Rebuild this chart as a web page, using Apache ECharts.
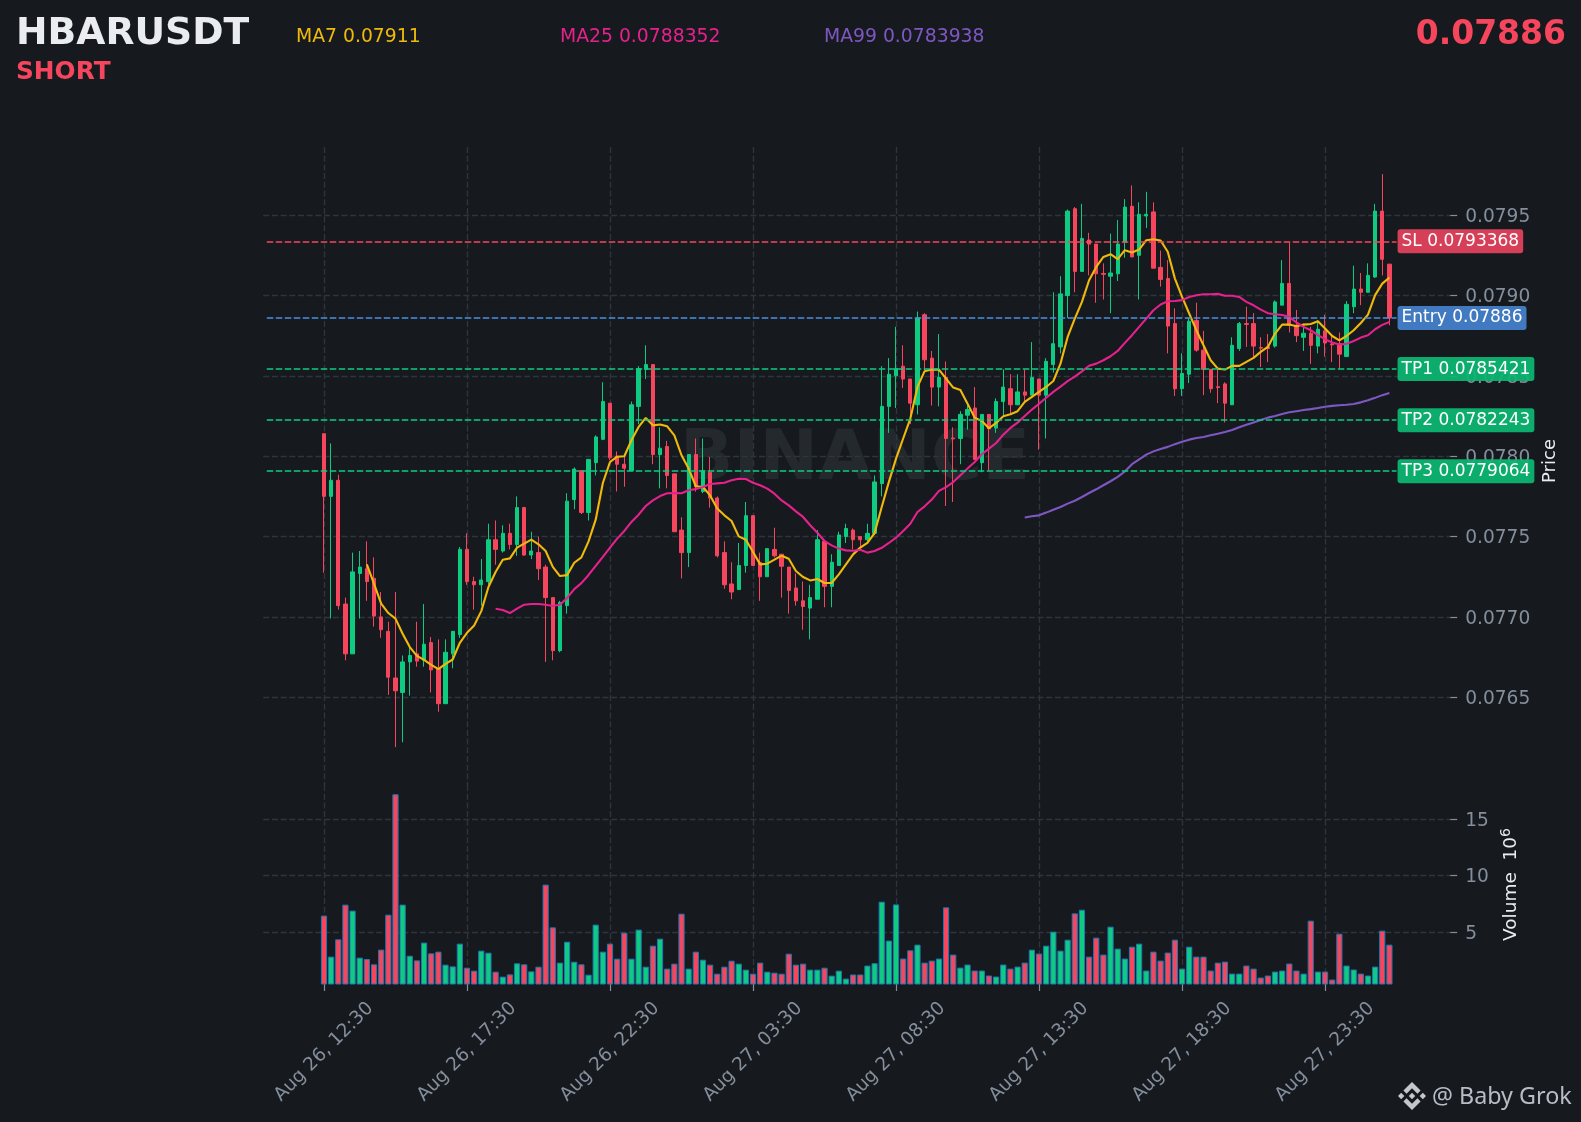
<!DOCTYPE html>
<html>
<head>
<meta charset="utf-8">
<script src="https://cdn.jsdelivr.net/npm/echarts@6/dist/echarts.min.js"></script>
<style>html,body{margin:0;padding:0;background:#161A1E}#c{width:1581px;height:1122px}</style>
</head>
<body>
<div id="c"></div>
<script>
// Prices are written in units of 0.00001 USDT
const PRICE_UNIT = 1e-5;
const opens = [7814,7775,7785,7708,7677,7727,7730,7724,7700,7691,7662,7653,7672,7677,7673,7684,7668,7646,7677,7689,7742,7722,7720,7722,7748,7741,7752,7745,7768,7738.5,7740,7731,7712,7679,7707,7773,7791,7765,7796,7810.5,7833,7800,7795,7791,7831,7854,7857,7801,7806,7789,7754,7740,7801,7778,7790,7774,7740,7720.5,7717,7732,7763,7734,7725,7742,7739,7731,7718,7710,7705.5,7711,7747,7719,7732,7750,7754,7750,7748,7752,7783,7831,7850,7856,7848,7832,7888,7861,7843,7849,7811.3,7811,7825.5,7830,7796,7826,7817.5,7834,7842,7832,7840,7838,7848,7838,7857,7868,7900,7954,7915,7934.5,7932,7913.7,7912,7913.5,7933,7955.5,7925,7949.5,7952,7917.5,7910.5,7882.5,7842,7851,7884.5,7866,7854,7843.2,7845,7832,7867,7882.5,7882.5,7867.6,7868,7868.5,7894,7907.5,7881.5,7874,7876.5,7868.5,7878,7869.8,7870,7862,7893,7904,7902,7911.5,7952.5,7919.5];
const closes = [7775,7785,7707,7677,7728,7731,7722,7700.5,7692,7662.5,7654,7672,7676,7672.5,7683,7667,7646,7678,7691,7742,7722,7720,7723,7748,7742,7752,7745,7768,7738.5,7741,7730,7712,7679,7709,7772,7792,7765,7798,7812,7834,7799,7795,7792.5,7832,7854.5,7857,7801,7805,7788,7753,7740,7801,7781,7791,7774,7738,7720,7715.5,7732,7763,7732,7725,7742.5,7738,7731.5,7716.5,7710,7706.5,7712,7748,7719,7734,7751,7755,7748,7748,7752,7784,7831,7851,7854.5,7848,7833,7886,7860,7843,7849,7811,7810.8,7826,7829,7798,7826,7817,7834,7843,7832,7840,7838,7849,7838,7859,7870,7901,7952.5,7915,7935.5,7932,7913.5,7913.2,7914,7932,7955,7924,7950.5,7950.5,7917,7910,7881,7842,7851.5,7884,7866,7854,7842,7842.7,7833,7869,7882.5,7882,7868.5,7867.2,7867,7896,7907.5,7881.5,7875,7876.5,7869,7879,7870.5,7869.3,7863.5,7894.5,7904,7902,7912.5,7952.5,7922.5,7886];
const lows = [7727.5,7699,7704.5,7673,7677,7699,7710,7694,7687,7651.5,7619,7622,7651,7669,7669,7653,7641,7646,7668,7687,7720,7704.5,7707,7720,7732.5,7740,7742,7738,7738,7736,7723,7672,7673,7678,7702,7767,7764,7760,7788,7810,7797.5,7778,7781,7791,7820,7848,7795,7780,7780,7753,7724,7731,7778,7777,7768,7737,7717.5,7711,7717,7727.5,7732,7710,7725,7737,7712,7702,7707,7692,7686,7711,7706,7706,7732,7746,7742,7743,7747,7751,7775,7814.5,7830,7842.5,7820,7826,7853.5,7831.5,7831,7769,7771.5,7795,7816.5,7798,7790,7791,7814.5,7825,7826,7832,7833,7838,7804,7811,7852,7864,7886,7902,7915,7912.5,7895.5,7897.5,7889,7909,7923.5,7924,7897.5,7942,7917,7905.5,7864,7837.5,7837.5,7845.5,7865,7838,7839.5,7833,7821,7832,7865.5,7868,7861.5,7855.5,7858.5,7867.5,7894,7877,7871,7865.5,7857.5,7864,7862,7858.5,7854.5,7862,7889,7894,7902,7911,7912.5,7881.5];
const highs = [7814,7808,7788.5,7712,7740,7741,7747,7737,7715.5,7697,7715.5,7676,7681,7697,7708,7687.5,7686,7686,7691,7743.5,7752,7725,7736,7758,7760,7757,7758,7775,7768.5,7753,7750,7732.5,7712,7710,7777,7793,7791,7798,7813,7846,7833,7803,7800,7834,7856,7869,7857,7818,7809.5,7789,7762,7801,7811,7811,7799.5,7775,7747,7734,7746,7771.5,7763,7740,7742.5,7755.5,7739,7731,7727,7722,7720,7754,7747,7739,7753,7758,7755,7750,7758,7788,7856,7861,7880.5,7869,7848,7890,7889,7865.5,7876,7859,7818,7828,7832,7843,7826,7826,7836,7854,7851,7851,7854,7871,7848,7861,7902,7912,7953.5,7955,7957,7939,7932,7920,7938.5,7947,7960,7968.5,7958,7964.5,7958,7928,7922,7892,7864,7886,7895.5,7878,7854,7854,7846,7874,7883.5,7893,7889,7874,7876,7897,7922,7933,7891,7882.5,7880.5,7884.5,7888,7876,7877,7896.5,7918.5,7914,7920,7957,7975.5,7919.5];
// Volume in millions
const volumes = [6.45,2.82,4.35,7.42,6.89,2.73,2.61,2.14,3.44,6.53,17.18,7.42,2.9,2.49,4.06,3.11,3.26,2.11,1.96,3.97,1.84,1.58,3.35,3.17,1.49,1.05,1.25,2.23,2.14,1.52,1.93,9.19,5.41,2.29,4.14,2.37,2.14,1.22,5.65,3.26,3.97,2.64,4.94,2.64,5.21,1.93,3.79,4.41,1.76,2.2,6.62,1.76,3.26,2.55,2.11,1.31,1.93,2.46,2.2,1.67,1.31,2.29,1.49,1.4,1.31,3.08,2.11,2.2,1.67,1.67,1.84,1.14,1.58,0.88,1.24,1.24,2.03,2.24,7.68,4.24,7.44,2.65,3.38,3.88,2.29,2.47,2.65,7.18,3.0,1.85,2.12,1.59,1.59,1.15,1.06,2.12,1.76,1.94,2.29,3.44,3.09,3.79,5.03,3.35,4.32,6.65,6.97,2.82,4.5,3.0,5.47,3.53,2.65,3.7,3.97,1.59,3.26,2.47,3.18,4.32,1.76,3.7,2.82,2.82,1.59,2.29,2.38,1.32,1.32,2.03,1.76,0.97,1.15,1.5,1.59,2.21,1.59,1.32,6.0,1.5,1.5,0.79,4.85,2.03,1.68,1.32,1.15,1.94,5.12,3.88];
// MA7 starts at candle 6, MA25 at candle 24, MA99 at candle 98
const ma7 = [7732.7,7720.6,7708.2,7702.4,7698.9,7689.5,7681.2,7675.8,7673.3,7670.2,7667.5,7670.8,7673.5,7683.9,7690.1,7694.7,7703.6,7718.6,7727.9,7735.6,7736.4,7743.1,7745.6,7748.1,7745.2,7741,7731.1,7725.4,7726,7733.7,7737,7747,7760.5,7783.3,7796.4,7799.7,7800,7809.9,7818.2,7823.8,7819.2,7819.7,7818.6,7813,7800.6,7792.3,7781.3,7780.8,7775.6,7767.4,7763.2,7759.7,7750.1,7748,7740.4,7732.7,7733.1,7735.6,7738.1,7736.2,7728.6,7724.8,7722.7,7723.6,7721.1,7721.1,7726.5,7732.7,7738.9,7743.1,7746,7752.2,7768.4,7784,7798.5,7811,7823.4,7843.1,7852.9,7853.9,7853.9,7848.3,7842.7,7841.2,7832.7,7824,7821.9,7817.4,7820.7,7824.8,7826.1,7828,7833.8,7836.9,7840,7843.1,7846.8,7857.6,7874.2,7885.6,7896,7909.5,7917.8,7924,7925.7,7922.6,7928.2,7926.7,7928.6,7934.4,7935,7934.2,7927.2,7910.5,7899.1,7888.8,7878.4,7869,7859.7,7854.5,7853.9,7856.2,7856.2,7858.7,7861.2,7864.9,7868,7876.3,7881.9,7881.9,7880.9,7881.9,7882.3,7884,7879.4,7874.8,7872.1,7874.8,7878.4,7882.9,7888.1,7900.2,7907.4,7911.1];
const ma25 = [7705.1,7704.3,7702.4,7705.1,7707.6,7708,7708,7707.6,7706.8,7707.6,7711.8,7717.3,7721,7726.1,7731.8,7737.3,7743.1,7748.7,7753.5,7759.1,7763.6,7769,7772.5,7775.2,7776.9,7777.1,7776.9,7778.8,7779.6,7780.8,7782.7,7783.1,7783.5,7785,7786,7785.8,7783.5,7781.9,7779.8,7776.7,7772.5,7769.4,7765.7,7762.2,7757,7752.4,7747.2,7744.5,7742.5,7741.4,7741.2,7741.8,7740,7741,7743,7746,7749.3,7753.4,7758,7765.3,7768.8,7773,7778.4,7780.8,7783.9,7788.1,7792.3,7796.4,7801.2,7804.7,7808.2,7813.4,7817.6,7820.9,7825,7829,7832.6,7836.4,7840,7843.3,7846.7,7849.5,7852.8,7856.3,7857.6,7859.7,7862.2,7865.5,7870.5,7875.3,7880.5,7885.6,7890.8,7894.4,7896.4,7896.6,7897.1,7899.1,7900.2,7900.8,7900.8,7901,7899.8,7899.8,7899.1,7896,7893.9,7891.2,7889,7888.3,7887.9,7886.7,7883.2,7880.5,7878.4,7875.3,7872.8,7870.7,7869.5,7869.9,7871.7,7873.8,7875.3,7879,7881.7,7883.5];
const ma99 = [7761.9,7762.6,7763.2,7764.9,7766.7,7768.4,7770.5,7772.3,7774.6,7777.1,7779.4,7781.9,7784.4,7787.1,7790.5,7795,7798,7801,7803,7804.5,7805.8,7807.5,7809,7810.3,7811.3,7812,7813,7814,7815,7816.3,7818,7819.5,7821,7822.5,7824,7825,7826.3,7827.3,7828,7828.7,7829.3,7830,7830.8,7831.3,7831.7,7832,7832.5,7833.5,7834.8,7836.3,7838,7839.4];
const dateLabels = ['Aug 26, 12:30','Aug 26, 17:30','Aug 26, 22:30','Aug 27, 03:30','Aug 27, 08:30','Aug 27, 13:30','Aug 27, 18:30','Aug 27, 23:30'];
const priceTicks = [0.0765,0.0770,0.0775,0.0780,0.0785,0.0790,0.0795];
const volumeTicks = [5,10,15];
const levels = [
  {name:'SL', value:0.0793368, text:'0.0793368'},
  {name:'Entry', value:0.07886, text:'0.07886'},
  {name:'TP1', value:0.0785421, text:'0.0785421'},
  {name:'TP2', value:0.0782243, text:'0.0782243'},
  {name:'TP3', value:0.0779064, text:'0.0779064'}
];
const headerMA = [
  {text:'MA7 0.07911', color:'#F0B90B', x:296},
  {text:'MA25 0.0788352', color:'#E6218E', x:560},
  {text:'MA99 0.0783938', color:'#7E57C2', x:824}
];

const RED='#F6465D', GREEN='#0ECB81', BG='#161A1E', GRID='#2E353D', MUTED='#848E9C', TEXT='#EAECEF';
const levelStyle = {SL:['#F6465D','rgba(228,67,91,0.93)'], Entry:['#4A90E2','rgba(70,130,206,0.93)'], TP1:['#0ECB81','rgba(11,184,114,0.93)'], TP2:['#0ECB81','rgba(11,184,114,0.93)'], TP3:['#0ECB81','rgba(11,184,114,0.93)']};
const PAD=8, SLOTS=166;
const isTickSlot = i => i>=PAD && (i-PAD)%20===0;
const categories = Array.from({length:SLOTS},(_,i)=> isTickSlot(i) ? (dateLabels[(i-PAD)/20]||'') : '');
const px = v => +(v*PRICE_UNIT).toFixed(7);
const lineData = (arr,start) => arr.map((v,k)=>[k+start+PAD, px(v)]);

const DASH=[6,2.7];
const gridSplit = {show:true, interval:(i)=>isTickSlot(i), alignWithLabel:true, lineStyle:{color:GRID,type:DASH,width:1.4}};
const X_LEFT=263.2, X_WIDTH=1187;
const tickRich = {t:{color:MUTED,fontSize:18.6,padding:[4,0,0,0],fontFamily:'"DejaVu Sans"'}};

// Binance mark, outline only (decoration)
const LOGO_X=1398, LOGO_Y=1082, LOGO_S=28/126.6;
const logoShapes = [
  [[38.73,53.2],[63.32,28.62],[87.92,53.22],[102.22,38.91],[63.32,0],[24.43,38.9]],
  [[0,63.31],[14.3,49],[28.61,63.31],[14.3,77.61]],
  [[38.73,73.41],[63.32,98],[87.92,73.4],[102.23,87.69],[63.33,126.6],[24.42,87.72]],
  [[98.01,63.31],[112.31,49],[126.62,63.3],[112.31,77.62]],
  [[77.83,63.3],[63.32,48.78],[48.81,63.28],[63.32,77.78]]
];

const chart = echarts.init(document.getElementById('c'));
chart.setOption({
  animation:false,
  backgroundColor:BG,
  textStyle:{fontFamily:'"DejaVu Sans"'},
  grid:[
    {left:X_LEFT, width:X_WIDTH, top:147, height:638},
    {left:X_LEFT, width:X_WIDTH, top:785, height:199}
  ],
  xAxis:[
    {type:'category', gridIndex:0, data:categories, boundaryGap:true, axisLine:{show:false}, axisTick:{show:false}, axisLabel:{show:false}, splitLine:gridSplit},
    {type:'category', gridIndex:1, data:categories, boundaryGap:true, axisLine:{show:false},
     axisTick:{show:true, alignWithLabel:true, interval:(i)=>isTickSlot(i), length:7, lineStyle:{color:MUTED,width:1.2}},
     axisLabel:{show:true, interval:(i)=>isTickSlot(i), rotate:45, align:'center', verticalAlign:'middle', color:MUTED, fontSize:18.6, margin:68, fontFamily:'"DejaVu Sans"'},
     splitLine:gridSplit}
  ],
  yAxis:[
    {type:'value', gridIndex:0, position:'right', scale:true, min:0.075954, max:0.079924,
     name:'Price', nameLocation:'middle', nameRotate:90, nameGap:91, nameTextStyle:{color:TEXT,fontSize:18,padding:[0,0,0,10],fontFamily:'"DejaVu Sans"'},
     axisLine:{show:false},
     axisTick:{show:true,length:7,customValues:priceTicks,lineStyle:{color:MUTED,width:1.2}},
     axisLabel:{show:true,margin:15,customValues:priceTicks,formatter:v=>'{t|'+v.toFixed(4)+'}',rich:tickRich},
     splitLine:{show:true,lineStyle:{color:GRID,type:DASH,width:1.4}}},
    {type:'value', gridIndex:1, position:'right', min:0.4, max:18,
     name:'{a|Volume  10}{b|6}', nameLocation:'middle', nameRotate:90, nameGap:49,
     nameTextStyle:{rich:{a:{color:TEXT,fontSize:18.5,fontFamily:'"DejaVu Sans"'},b:{color:TEXT,fontSize:14,verticalAlign:'bottom',padding:[0,0,8,0],fontFamily:'"DejaVu Sans"'}}},
     axisLine:{show:false},
     axisTick:{show:true,length:7,customValues:volumeTicks,lineStyle:{color:MUTED,width:1.2}},
     axisLabel:{show:true,margin:15,customValues:volumeTicks,formatter:v=>'{t|'+v+'}',rich:tickRich},
     splitLine:{show:true,lineStyle:{color:GRID,type:DASH,width:1.4}}}
  ],
  graphic:[
    {type:'text',silent:true,z:0,style:{x:855,y:461,text:'BINANCE',align:'center',verticalAlign:'middle',fill:'#24292E',font:'bold 70px "DejaVu Sans"'}},
    {type:'text',silent:true,z:10,style:{x:16,y:34,text:'HBARUSDT',verticalAlign:'middle',fill:TEXT,font:'bold 37.7px "DejaVu Sans"'}},
    {type:'text',silent:true,z:10,style:{x:16,y:73,text:'SHORT',verticalAlign:'middle',fill:RED,font:'bold 24.8px "DejaVu Sans"'}},
    {type:'text',silent:true,z:10,style:{x:1566,y:35,text:'0.07886',align:'right',verticalAlign:'middle',fill:RED,font:'bold 33px "DejaVu Sans"'}},
    ...headerMA.map(m=>({type:'text',silent:true,z:10,style:{x:m.x,y:37,text:m.text,verticalAlign:'middle',fill:m.color,font:'18.8px "DejaVu Sans"'}})),
    ...logoShapes.map(pts=>({type:'polygon',silent:true,z:10,shape:{points:pts.map(p=>[LOGO_X+p[0]*LOGO_S,LOGO_Y+p[1]*LOGO_S])},style:{fill:'#C4C8CE'}})),
    {type:'text',silent:true,z:10,style:{x:1432,y:1097,text:'@ Baby Grok',verticalAlign:'middle',fill:'#B7BDC6',font:'23.3px "Noto Sans"'}}
  ],
  series:[
    {type:'candlestick', xAxisIndex:0, yAxisIndex:0, barWidth:3.8, encode:{x:0,y:[1,2,3,4]},
     data:opens.map((o,i)=>[i+PAD,px(o),px(closes[i]),px(lows[i]),px(highs[i])]),
     itemStyle:{color:GREEN,color0:RED,borderColor:GREEN,borderColor0:RED,borderWidth:1},
     markLine:{silent:true,symbol:'none',animation:false,
       data:levels.map(l=>{
         const st=levelStyle[l.name];
         return [
           {coord:[0,l.value],lineStyle:{color:st[0],type:[6.5,2.5],width:1.6}},
           {coord:[158,l.value],label:{show:true,position:'end',distance:1,formatter:l.name+' '+l.text,color:'#FFFFFF',fontSize:17,fontFamily:'"DejaVu Sans"',backgroundColor:st[1],padding:[4,4,3,4],borderRadius:3}}
         ];
       })}
    },
    {type:'line',xAxisIndex:0,yAxisIndex:0,showSymbol:false,data:lineData(ma7,6),lineStyle:{color:'#F0B90B',width:2.1},z:4},
    {type:'line',xAxisIndex:0,yAxisIndex:0,showSymbol:false,data:lineData(ma25,24),lineStyle:{color:'#E6218E',width:2.1},z:4},
    {type:'line',xAxisIndex:0,yAxisIndex:0,showSymbol:false,data:lineData(ma99,98),lineStyle:{color:'#7E57C2',width:2.1},z:4},
    {type:'bar',xAxisIndex:1,yAxisIndex:1,barWidth:6.2,
     data:volumes.map((v,i)=>({value:[i+PAD,v],itemStyle:{color:closes[i]>=opens[i]?GREEN:RED,borderColor:'#1F77B4',borderWidth:1}}))}
  ]
});
</script>
</body>
</html>
